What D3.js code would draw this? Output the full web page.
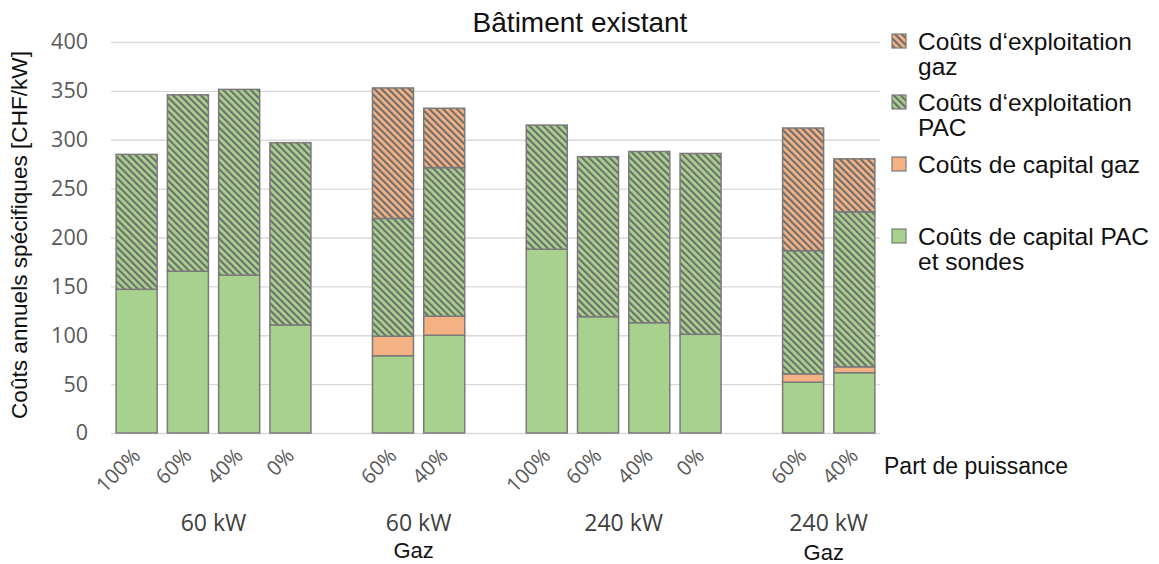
<!DOCTYPE html>
<html><head><meta charset="utf-8">
<script src="https://cdn.jsdelivr.net/npm/d3@7"></script>
<style>body{margin:0;background:#fff}</style>
</head><body>
<svg id="c" width="1159" height="564"></svg>
<script>
// ---- data ----
const slots = ["a1","a2","a3","a4","gap1","b1","b2","gap2","c1","c2","c3","c4","gap3","d1","d2"];
const tickLabels = ["100%","60%","40%","0%","","60%","40%","","100%","60%","40%","0%","","60%","40%"];
const groupNames = ["60 kW","60 kW","240 kW","240 kW"];
const groupSub = ["","Gaz","","Gaz"];
const groupSlots = [["a1","a2","a3","a4"],["b1","b2"],["c1","c2","c3","c4"],["d1","d2"]];
const barKeys = ["a1","a2","a3","a4","b1","b2","c1","c2","c3","c4","d1","d2"];
const capPAC = [147, 165.5, 161.5, 110.5, 79, 100, 188, 119, 112.8, 101, 52, 61.7];
const capGaz = [0, 0, 0, 0, 20, 19.5, 0, 0, 0, 0, 8.5, 6];
const expPAC = [138, 180.5, 190, 186.5, 120.5, 152, 127, 163.7, 175.2, 185, 126, 158.6];
const expGaz = [0, 0, 0, 0, 133.5, 60.7, 0, 0, 0, 0, 125.5, 54.2];
const seriesNames = ["Coûts de capital PAC et sondes","Coûts de capital gaz","Coûts d‘exploitation PAC","Coûts d‘exploitation gaz"];
const yTicks = [0,50,100,150,200,250,300,350,400];
const legendLines = [
  ["Coûts d‘exploitation","gaz"],
  ["Coûts d‘exploitation","PAC"],
  ["Coûts de capital gaz"],
  ["Coûts de capital PAC","et sondes"]
];

// ---- setup ----
const svg = d3.select("#c");
const GREEN = "#a9d18e", ORANGE = "#f4b183", EDGE = "#7a7a7a", HATCH = "#6e6e6e";
const defs = svg.append("defs");
function hatch(id, color){
  const p = defs.append("pattern").attr("id", id).attr("patternUnits","userSpaceOnUse")
    .attr("width", 4.9).attr("height", 10).attr("patternTransform","rotate(-45)");
  p.append("rect").attr("width",4.9).attr("height",10).attr("fill",color);
  p.append("rect").attr("x",0).attr("width",2.1).attr("height",10).attr("fill",HATCH);
}
hatch("hG", GREEN); hatch("hO", ORANGE);
const fills = [GREEN, ORANGE, "url(#hG)", "url(#hO)"];

const x = d3.scaleBand().domain(slots).range([111, 880]).paddingInner(0.2).paddingOuter(0.1);
const y = d3.scaleLinear().domain([0, 400]).range([433, 42]);

// gridlines
const yAxis = d3.axisLeft(y).tickValues(yTicks).tickSize(-(880-111)).tickPadding(23);
const ga = svg.append("g").attr("transform","translate(111,0)").call(yAxis);
ga.select(".domain").remove();
ga.selectAll(".tick line").attr("stroke","#d9d9d9").attr("stroke-width",1.3);
ga.selectAll(".tick text").attr("fill","#595959").attr("font-family","Open Sans").attr("font-size",21.5);

// stacked data
const rows = barKeys.map((k,i)=>({key:k, s0:capPAC[i], s1:capGaz[i], s2:expPAC[i], s3:expGaz[i]}));
const stack = d3.stack().keys(["s0","s1","s2","s3"]);
const layers = stack(rows);
svg.append("g").selectAll("g").data(layers).join("g")
  .attr("fill",(d,i)=>fills[i])
  .selectAll("rect").data(d=>d.filter(v=>v[1]-v[0]>0)).join("rect")
  .attr("x",d=>x(d.data.key)).attr("width",x.bandwidth())
  .attr("y",d=>y(d[1])).attr("height",d=>y(d[0])-y(d[1]))
  .attr("stroke",EDGE).attr("stroke-width",1.5);

// x tick labels
const xAxis = d3.axisBottom(x).tickSize(0).tickFormat((d,i)=>tickLabels[i]);
const gx = svg.append("g").attr("transform","translate(0,433)").call(xAxis);
gx.select(".domain").remove();
gx.selectAll(".tick text").attr("fill","#595959").attr("font-family","Open Sans").attr("font-size",20.5)
  .attr("text-anchor","end").attr("dy",0).attr("y",0)
  .attr("transform","translate(5,24) rotate(-45)");

// group labels
groupSlots.forEach((g,i)=>{
  const cx = d3.mean(g, k=>x(k)+x.bandwidth()/2);
  svg.append("text").attr("x",cx).attr("y",531).attr("text-anchor","middle")
    .attr("font-family","Open Sans").attr("font-size",23).attr("fill","#404040").text(groupNames[i]);
  if(groupSub[i]) svg.append("text").attr("x",cx-5).attr("y",558 + (i===3?2:0)).attr("text-anchor","middle")
    .attr("font-family","Liberation Sans, Arial").attr("font-size",22).attr("fill","#111").text(groupSub[i]);
});

// title
svg.append("text").attr("x",580).attr("y",32).attr("text-anchor","middle")
  .attr("font-family","Liberation Sans, Arial").attr("font-size",28).attr("fill","#111").text("Bâtiment existant");
// y title
svg.append("text").attr("transform","translate(27,235) rotate(-90)").attr("text-anchor","middle")
  .attr("font-family","Liberation Sans, Arial").attr("font-size",22.6).attr("fill","#111")
  .text("Coûts annuels spécifiques [CHF/kW]");
// x title
svg.append("text").attr("x",884).attr("y",474)
  .attr("font-family","Liberation Sans, Arial").attr("font-size",23).attr("fill","#111").text("Part de puissance");

// legend (top entry = topmost series)
const legY = [41, 102, 164, 236];
const legFill = [fills[3], fills[2], fills[1], fills[0]];
legendLines.forEach((lines,i)=>{
  svg.append("rect").attr("x",892).attr("y",legY[i]-7).attr("width",14).attr("height",14)
    .attr("fill",legFill[i]).attr("stroke",EDGE).attr("stroke-width",1.2);
  const t = svg.append("text").attr("x",918).attr("y",legY[i]+8.5)
      .attr("font-family","Liberation Sans, Arial").attr("font-size",24.5).attr("fill","#111");
  lines.forEach((s,j)=>{
    t.append("tspan").attr("x",918).attr("dy", j===0 ? 0 : 25).text(s);
  });
});
</script>
</body></html>
